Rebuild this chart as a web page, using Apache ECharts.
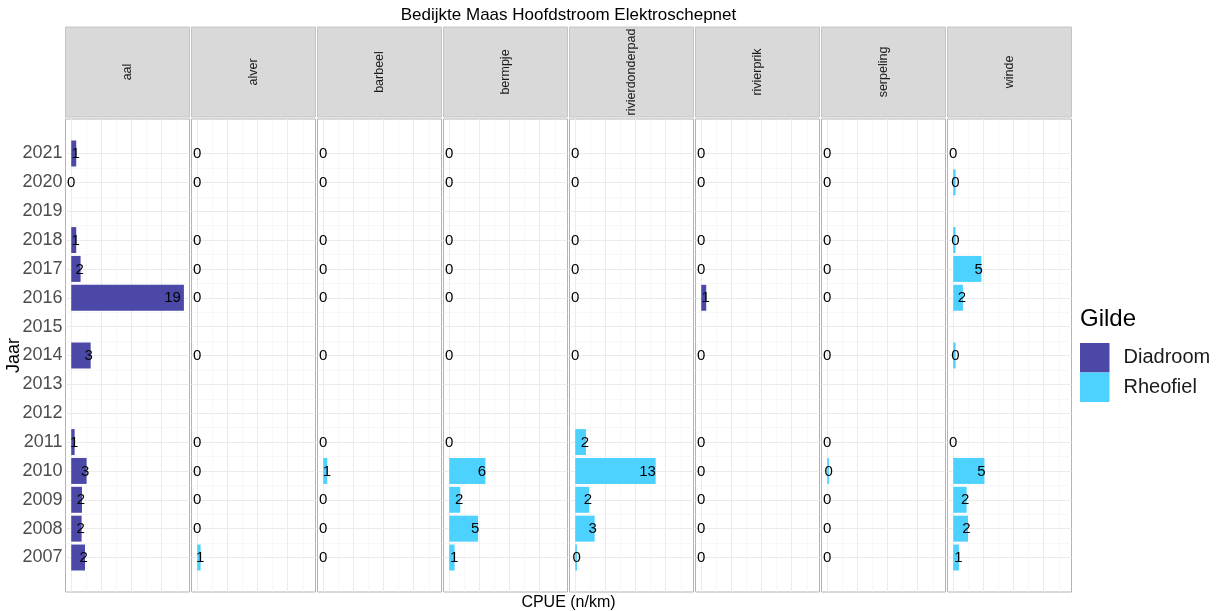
<!DOCTYPE html>
<html>
<head>
<meta charset="utf-8">
<script src="https://cdn.jsdelivr.net/npm/echarts@6/dist/echarts.min.js"></script>
<style>html,body{margin:0;padding:0;background:#fff}#c{width:1223px;height:611px}</style>
</head>
<body>
<div id="c"></div>
<script>
// ---- data (years 2007..2021; null = no sample) ----
const years = [2007,2008,2009,2010,2011,2012,2013,2014,2015,2016,2017,2018,2019,2020,2021];
const species = ['aal','alver','barbeel','bermpje','rivierdonderpad','rivierprik','serpeling','winde'];
const guildOf = ['Diadroom','Rheofiel','Rheofiel','Rheofiel','Rheofiel','Diadroom','Rheofiel','Rheofiel'];
const guilds = ['Diadroom','Rheofiel'];
const aal             = [2.28, 1.72, 1.78, 2.55, 0.56, null, null, 3.22, null, 18.67, 1.55, 0.83, null, 0, 0.83];
const alver           = [0.56, 0, 0, 0, 0, null, null, 0, null, 0, 0, 0, null, 0, 0];
const barbeel         = [0, 0, 0, 0.67, 0, null, null, 0, null, 0, 0, 0, null, 0, 0];
const bermpje         = [0.89, 4.78, 1.83, 6.0, 0, null, null, 0, null, 0, 0, 0, null, 0, 0];
const rivierdonderpad = [0.28, 3.22, 2.33, 13.33, 1.78, null, null, 0, null, 0, 0, 0, null, 0, 0];
const rivierprik      = [0, 0, 0, 0, 0, null, null, 0, null, 0.83, 0, 0, null, 0, 0];
const serpeling       = [0, 0, 0, 0.28, 0, null, null, 0, null, 0, 0, 0, null, 0, 0];
const winde           = [0.94, 2.45, 2.22, 5.17, 0, null, null, 0.39, null, 1.61, 4.67, 0.39, null, 0.39, 0];
const valuesBySpecies = [aal, alver, barbeel, bermpje, rivierdonderpad, rivierprik, serpeling, winde];
const xMajor = [0, 5, 10, 15];
const xMinor = [2.5, 7.5, 12.5, 17.5];

const titleText = 'Bedijkte Maas Hoofdstroom Elektroschepnet';
const xTitle = 'CPUE (n/km)';
const yTitle = 'Jaar';
const legendTitle = 'Gilde';

// ---- styling / layout ----
const FONT = '"Liberation Sans", Arial, sans-serif';
const COLORS = {Diadroom: '#4B48A8', Rheofiel: '#4DD2FF'};
const XMIN = -0.95, XMAX = 19.6, YMIN = 2005.805, YMAX = 2022.195;
const PANEL_LEFT = 65.5, PITCH = 126, PANEL_W = 124, PANEL_TOP = 119, PANEL_H = 473;
const STRIP_TOP = 27, STRIP_H = 90;

const chart = echarts.init(document.getElementById('c'), null, {renderer: 'canvas'});

function renderItem(params, api) {
  const v = api.value(0), y = api.value(1);
  const a = api.coord([0, y + 0.45]);
  const b = api.coord([v, y - 0.45]);
  const t = api.coord([v * 0.9, y]);
  return {
    type: 'group',
    children: [
      {type: 'rect', shape: {x: a[0], y: a[1], width: b[0] - a[0], height: b[1] - a[1]},
       style: {fill: api.visual('color')}},
      {type: 'text', x: t[0], y: t[1] + 0.5,
       style: {text: String(Math.round(v)), align: 'center', verticalAlign: 'middle',
               fontSize: 15, fontFamily: FONT, fill: '#000'}}
    ]
  };
}

const grids = [], xAxes = [], yAxes = [], series = [], graphics = [];
const halfYears = years.slice(0, -1).map(y => y + 0.5);

species.forEach((sp, i) => {
  const left = PANEL_LEFT + PITCH * i;
  grids.push({left: left, top: PANEL_TOP, width: PANEL_W, height: PANEL_H, containLabel: false,
              outerBoundsMode: 'none', show: true, borderColor: '#B3B3B3', borderWidth: 1,
              backgroundColor: '#fff'});
  xAxes.push({type: 'value', gridIndex: i, min: XMIN, max: XMAX,
              axisLabel: {show: false}, axisTick: {show: false}, axisLine: {show: false},
              splitLine: {show: false}});
  yAxes.push({type: 'value', gridIndex: i, min: YMIN, max: YMAX,
              axisLine: {show: false},
              splitLine: {show: false},
              axisTick: {show: i === 0, customValues: years, length: 3.5,
                         lineStyle: {color: '#333333', width: 1}},
              axisLabel: {show: i === 0, customValues: years, margin: 3, color: '#4D4D4D',
                          fontSize: 18, fontFamily: FONT, formatter: v => String(v)}});
  const vals = valuesBySpecies[i];
  const data = [];
  vals.forEach((v, k) => { if (v !== null) data.push([v, years[k]]); });
  const lines = [];
  xMinor.forEach(x => lines.push({xAxis: x, lineStyle: {color: '#F3F3F3', width: 0.6}}));
  halfYears.forEach(y => lines.push({yAxis: y, lineStyle: {color: '#F3F3F3', width: 0.6}}));
  xMajor.forEach(x => lines.push({xAxis: x, lineStyle: {color: '#EBEBEB', width: 1}}));
  years.forEach(y => lines.push({yAxis: y, lineStyle: {color: '#EBEBEB', width: 1}}));
  series.push({
    type: 'custom', name: guildOf[i], xAxisIndex: i, yAxisIndex: i, z: 5,
    itemStyle: {color: COLORS[guildOf[i]]},
    renderItem: renderItem, data: data, animation: false, silent: true,
    markLine: {silent: true, symbol: ['none', 'none'], label: {show: false}, z: 1,
               animation: false, lineStyle: {type: 'solid'}, data: lines}
  });
  // strip
  graphics.push({type: 'rect', shape: {x: left, y: STRIP_TOP, width: PANEL_W, height: STRIP_H},
                 style: {fill: '#D9D9D9', stroke: '#C4C4C4', lineWidth: 1}});
  graphics.push({type: 'text', x: left + PANEL_W / 2 + 0.5, y: STRIP_TOP + STRIP_H / 2, rotation: Math.PI / 2,
                 style: {text: sp, align: 'center', verticalAlign: 'middle', fontSize: 12.5,
                         fontFamily: FONT, fill: '#1A1A1A'}});
});

const panelsCenter = PANEL_LEFT + (PITCH * 7 + PANEL_W) / 2;
graphics.push({type: 'text', x: panelsCenter, y: 15,
               style: {text: titleText, align: 'center', verticalAlign: 'middle', fontSize: 17,
                       fontFamily: FONT, fill: '#000'}});
graphics.push({type: 'text', x: panelsCenter, y: 603,
               style: {text: xTitle, align: 'center', verticalAlign: 'middle', fontSize: 16,
                       fontFamily: FONT, fill: '#000'}});
graphics.push({type: 'text', x: 14, y: PANEL_TOP + PANEL_H / 2, rotation: Math.PI / 2,
               style: {text: yTitle, align: 'center', verticalAlign: 'middle', fontSize: 18,
                       fontFamily: FONT, fill: '#000'}});
graphics.push({type: 'text', x: 1080, y: 319,
               style: {text: legendTitle, align: 'left', verticalAlign: 'middle', fontSize: 24,
                       fontFamily: FONT, fill: '#000'}});

chart.setOption({
  animation: false,
  backgroundColor: '#fff',
  grid: grids,
  xAxis: xAxes,
  yAxis: yAxes,
  series: series,
  legend: {
    data: guilds.map(g => ({name: g, itemStyle: {color: COLORS[g]}})),
    orient: 'vertical', left: 1080, top: 343, padding: 0,
    itemWidth: 29.5, itemHeight: 29.5, itemGap: 0, icon: 'rect', selectedMode: false,
    textStyle: {fontSize: 20, fontFamily: FONT, color: '#1A1A1A', padding: [0, 0, 0, 9]}
  },
  graphic: {elements: graphics}
});
</script>
</body>
</html>
